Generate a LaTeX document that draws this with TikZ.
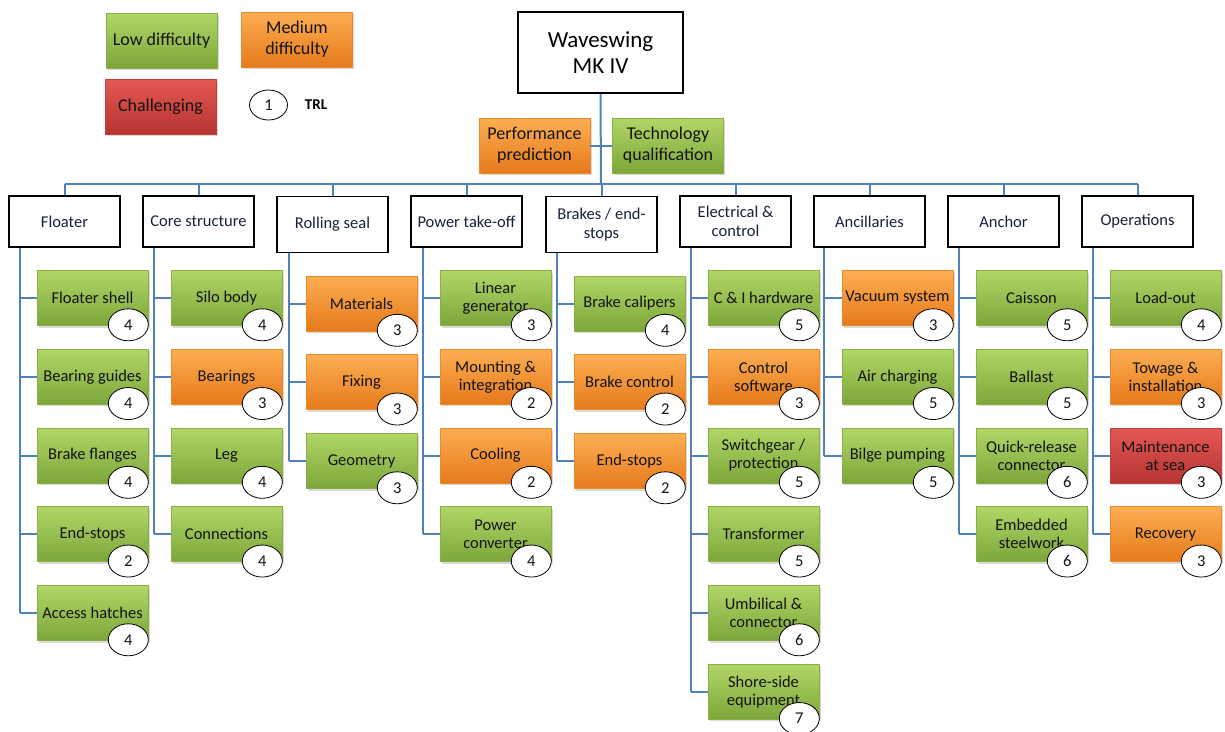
\documentclass[tikz,border=0pt]{standalone}
\usepackage{fontspec}
\setmainfont{Carlito}
\usetikzlibrary{shapes.geometric,shadows}
\definecolor{gTop}{HTML}{B0D666}
\definecolor{gBot}{HTML}{7DA63A}
\definecolor{gLine}{HTML}{8CAF45}
\definecolor{oTop}{HTML}{FDAE52}
\definecolor{oBot}{HTML}{E57A1B}
\definecolor{oLine}{HTML}{EA8A2B}
\definecolor{rTop}{HTML}{E55854}
\definecolor{rBot}{HTML}{B53431}
\definecolor{rLine}{HTML}{C0403C}
\definecolor{connc}{HTML}{4F81BD}
\definecolor{txt}{HTML}{141414}
\definecolor{htxt}{HTML}{152238}
\tikzset{
  connector/.style={draw=connc, line width=2pt},
  kidbox/.style={rectangle, minimum width=111pt, minimum height=55pt, inner sep=0pt,
    align=center, font=\fontsize{16.5}{18}\selectfont, text=txt,
    drop shadow={shadow xshift=1.5pt, shadow yshift=-2pt, opacity=0.3}},
  legbox/.style={kidbox, font=\fontsize{18}{21}\selectfont},
  lowd/.style={top color=gTop, bottom color=gBot, draw=gLine, line width=0.6pt},
  medd/.style={top color=oTop, bottom color=oBot, draw=oLine, line width=0.6pt},
  hard/.style={top color=rTop, bottom color=rBot, draw=rLine, line width=0.6pt},
  hdr/.style={rectangle, draw=black, line width=1.8pt, fill=white, minimum width=111pt,
    minimum height=51pt, inner sep=0pt, align=center, font=\fontsize{16.5}{19}\selectfont, text=htxt},
  hdrtall/.style={hdr, minimum height=56pt},
  trl/.style={ellipse, draw=black, line width=0.8pt, fill=white, minimum width=40pt,
    minimum height=32pt, inner sep=0pt, font=\fontsize{16.5}{18}\selectfont, text=txt},
}
% #1 name, #2 line x, #3 y, #4 colour style, #5 text, #6 TRL, #7 box centre x
\newcommand\kid[7]{%
  \node[kidbox,#4] (#1) at (#7,#3) {#5};
  \node[trl] (#1n) at ([xshift=-20pt,yshift=1pt]#1.south east) {#6};
  \coordinate (#1c) at (#2,#3);
  \draw[connector] (#1c) -- (#1.west);
}
\begin{document}
\begin{tikzpicture}[x=1pt,y=-1pt]
\useasboundingbox (0,0) rectangle (1225,731);

% legend
\node[legbox,lowd] (leglow) at (161.5,40.5) {Low difficulty};
\node[legbox,medd] (legmed) at (297,39.5) {Medium\\difficulty};
\node[legbox,hard] (leghard) at (160.5,106.5) {Challenging};
\node[trl, minimum width=38pt, minimum height=30pt] (legtrl) at (268.5,105) {1};
\node[font=\bfseries\fontsize{15}{17}\selectfont, text=black] (legtrltxt) at (316,105) {TRL};

% top
\node[hdr, minimum width=165pt, minimum height=81pt, font=\fontsize{23}{26}\selectfont, text=black] (top) at (600.5,52.5) {Waveswing\\MK IV};
\node[legbox,medd] (perf) at (534.5,145.5) {Performance\\prediction};
\node[legbox,lowd] (tech) at (668,145.5) {Technology\\qualification};
\coordinate (bus) at (601,184);
\draw[connector] (top.south) -- (bus);
\draw[connector] (perf.east) -- (tech.west);

% headers
\node[hdr] (floater) at (64.5,221.5) {Floater};
\node[hdr] (core) at (198.5,221.5) {Core structure};
\node[hdrtall] (rolling) at (332.5,224.5) {Rolling seal};
\node[hdr] (pto) at (466.5,221.5) {Power take-off};
\node[hdrtall] (brakes) at (601.5,224.5) {Brakes / end-\\stops};
\node[hdr] (elec) at (735.5,221.5) {Electrical \&\\control};
\node[hdr] (anc) at (869.5,221.5) {Ancillaries};
\node[hdr] (anchor) at (1003.5,221.5) {Anchor};
\node[hdr] (ops) at (1137.5,221.5) {Operations};

\draw[connector] (floater.north |- bus) -- (ops.north |- bus);
\foreach \h in {floater,core,rolling,pto,brakes,elec,anc,anchor,ops}
  \draw[connector] (\h.north) -- (\h.north |- bus);

% Floater
\kid{f1}{20}{298}{lowd}{Floater shell}{4}{92.5}
\kid{f2}{20}{376.75}{lowd}{Bearing guides}{4}{92.5}
\kid{f3}{20}{455.5}{lowd}{Brake flanges}{4}{92.5}
\kid{f4}{20}{534.25}{lowd}{End-stops}{2}{92.5}
\kid{f5}{20}{613}{lowd}{Access hatches}{4}{92.5}
\draw[connector] (floater.south -| f1c) -- (f5c);

% Core structure
\kid{c1}{154}{298}{lowd}{Silo body}{4}{226.5}
\kid{c2}{154}{376.75}{medd}{Bearings}{3}{226.5}
\kid{c3}{154}{455.5}{lowd}{Leg}{4}{226.5}
\kid{c4}{154}{534.25}{lowd}{Connections}{4}{226.5}
\draw[connector] (core.south -| c1c) -- (c4c);

% Rolling seal
\kid{r1}{289}{303.5}{medd}{Materials}{3}{361.5}
\kid{r2}{289}{382.25}{medd}{Fixing}{3}{361.5}
\kid{r3}{289}{461}{lowd}{Geometry}{3}{361.5}
\draw[connector] (rolling.south -| r1c) -- (r3c);

% Power take-off
\kid{p1}{423}{298}{lowd}{Linear\\generator}{3}{495.5}
\kid{p2}{423}{376.75}{medd}{Mounting \&\\integration}{2}{495.5}
\kid{p3}{423}{455.5}{medd}{Cooling}{2}{495.5}
\kid{p4}{423}{534.25}{lowd}{Power\\converter}{4}{495.5}
\draw[connector] (pto.south -| p1c) -- (p4c);

% Brakes / end-stops
\kid{b1}{557}{303.5}{lowd}{Brake calipers}{4}{629.5}
\kid{b2}{557}{382.25}{medd}{Brake control}{2}{629.5}
\kid{b3}{557}{461}{medd}{End-stops}{2}{629.5}
\draw[connector] (brakes.south -| b1c) -- (b3c);

% Electrical & control
\kid{e1}{691}{298}{lowd}{C \& I hardware}{5}{763.5}
\kid{e2}{691}{376.75}{medd}{Control\\software}{3}{763.5}
\kid{e3}{691}{455.5}{lowd}{Switchgear /\\protection}{5}{763.5}
\kid{e4}{691}{534.25}{lowd}{Transformer}{5}{763.5}
\kid{e5}{691}{613}{lowd}{Umbilical \&\\connector}{6}{763.5}
\kid{e6}{691}{691.75}{lowd}{Shore-side\\equipment}{7}{763.5}
\draw[connector] (elec.south -| e1c) -- (e6c);

% Ancillaries
\kid{a1}{824}{298}{medd}{Vacuum system}{3}{897.5}
\kid{a2}{824}{376.75}{lowd}{Air charging}{5}{897.5}
\kid{a3}{824}{455.5}{lowd}{Bilge pumping}{5}{897.5}
\draw[connector] (anc.south -| a1c) -- (a3c);

% Anchor
\kid{k1}{959}{298}{lowd}{Caisson}{5}{1031.5}
\kid{k2}{959}{376.75}{lowd}{Ballast}{5}{1031.5}
\kid{k3}{959}{455.5}{lowd}{Quick-release\\connector}{6}{1031.5}
\kid{k4}{959}{534.25}{lowd}{Embedded\\steelwork}{6}{1031.5}
\draw[connector] (anchor.south -| k1c) -- (k4c);

% Operations
\kid{o1}{1093}{298}{lowd}{Load-out}{4}{1165.5}
\kid{o2}{1093}{376.75}{medd}{Towage \&\\installation}{3}{1165.5}
\kid{o3}{1093}{455.5}{hard}{Maintenance\\at sea}{3}{1165.5}
\kid{o4}{1093}{534.25}{medd}{Recovery}{3}{1165.5}
\draw[connector] (ops.south -| o1c) -- (o4c);
\end{tikzpicture}
\end{document}
